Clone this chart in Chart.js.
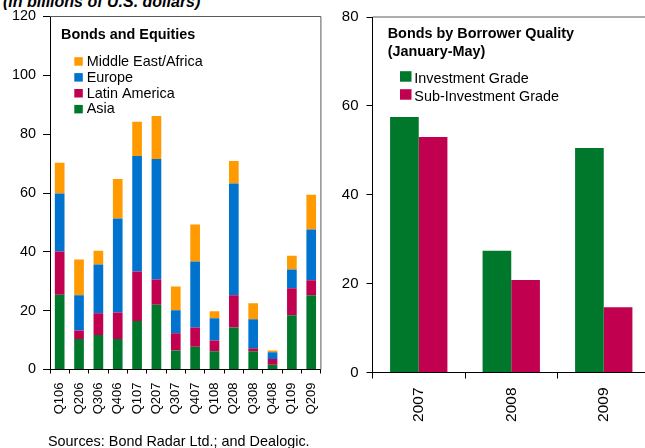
<!DOCTYPE html>
<html>
<head>
<meta charset="utf-8">
<script src="https://cdn.jsdelivr.net/npm/chart.js@4"></script>
<style>
html,body{margin:0;padding:0;background:#fff;overflow:hidden;width:645px;height:448px;position:relative;font-family:"Liberation Sans",Arial,sans-serif;}
#c1{position:absolute;left:0;top:0;}
#c2{position:absolute;left:330px;top:0;}
#title{position:absolute;left:3px;top:-6px;font:bold italic 16px "Liberation Sans",Arial,sans-serif;line-height:16px;white-space:nowrap;color:#000;}
#src{position:absolute;left:48px;top:434px;font:14.4px "Liberation Sans",Arial,sans-serif;line-height:14.4px;white-space:nowrap;color:#000;}
</style>
</head>
<body>
<div id="title">(in billions of U.S. dollars)</div>
<canvas id="c1" width="336" height="448"></canvas>
<canvas id="c2" width="330" height="448"></canvas>
<div id="src">Sources: Bond Radar Ltd.; and Dealogic.</div>
<script>
// ---- Left panel data (billions of U.S. dollars) ----
const quarters = ['Q106','Q206','Q306','Q406','Q107','Q207','Q307','Q407','Q108','Q208','Q308','Q408','Q109','Q209'];
const asia             = [25.4,10.4,11.7,10.4,16.5,22.0, 6.5, 7.7, 6.2,14.3, 6.2, 1.6,18.4,25.2];
const latinAmerica     = [14.7, 2.9, 7.4, 9.0,16.8, 8.6, 5.8, 6.6, 3.7,10.9, 1.0, 2.0, 9.2, 5.1];
const europe           = [19.7,11.9,16.6,31.9,39.3,41.0, 7.8,22.4, 7.5,38.0, 9.9, 2.3, 6.4,17.3];
const middleEastAfrica = [10.5,12.2, 4.7,13.5,11.6,14.6, 8.1,12.6, 2.4, 7.7, 5.4, 0.6, 4.7,11.8];
const leftTicks = [0,20,40,60,80,100,120];

// ---- Right panel data ----
const years = ['2007','2008','2009'];
const investmentGrade    = [57.5,27.4,50.5];
const subInvestmentGrade = [53.0,20.8,14.7];
const rightTicks = [0,20,40,60,80];

const FAM = '"Liberation Sans", Arial, sans-serif';
const C_ORANGE = '#FF9A00', C_BLUE = '#0073CF', C_RED = '#C1004F', C_GREEN = '#00782B';

const framePlugin = {
  id: 'frame',
  afterDraw(chart, args, opts) {
    const { ctx, chartArea: a } = chart;
    ctx.save();
    ctx.strokeStyle = opts.color || '#666';
    ctx.lineWidth = 1;
    ctx.beginPath();
    ctx.moveTo(a.left, a.top);
    ctx.lineTo(a.right, a.top);
    ctx.lineTo(a.right, a.bottom);
    ctx.stroke();
    ctx.restore();
  }
};

const boxLegendPlugin = {
  id: 'boxLegend',
  afterDraw(chart, args, o) {
    const ctx = chart.ctx;
    ctx.save();
    ctx.fillStyle = '#000';
    ctx.textAlign = 'left';
    ctx.textBaseline = 'alphabetic';
    ctx.font = 'bold ' + o.fontSize + 'px ' + FAM;
    o.title.forEach((t, i) => ctx.fillText(t, o.titleX, o.titleY + i * o.titleStep));
    ctx.font = o.fontSize + 'px ' + FAM;
    let ds = chart.data.datasets.slice();
    if (o.reverse) ds.reverse();
    ds.forEach((d, i) => {
      const by = o.y + i * o.step;
      ctx.fillStyle = d.backgroundColor;
      ctx.fillRect(o.boxX, by - o.boxH - o.boxLift, o.boxW, o.boxH);
      ctx.fillStyle = '#000';
      ctx.fillText(d.label, o.textX, by);
    });
    ctx.restore();
  }
};

new Chart(document.getElementById('c1'), {
  type: 'bar',
  data: {
    labels: quarters,
    datasets: [
      { label: 'Asia', data: asia, backgroundColor: C_GREEN },
      { label: 'Latin America', data: latinAmerica, backgroundColor: C_RED },
      { label: 'Europe', data: europe, backgroundColor: C_BLUE },
      { label: 'Middle East/Africa', data: middleEastAfrica, backgroundColor: C_ORANGE }
    ]
  },
  options: {
    responsive: false,
    animation: false,
    layout: { padding: { top: 16.5, right: 4.5, bottom: 0, left: 0 } },
    datasets: { bar: { barPercentage: 0.5, categoryPercentage: 1.0, borderWidth: 0 } },
    plugins: {
      legend: { display: false },
      tooltip: { enabled: false },
      frame: { color: '#5a5a5a' },
      boxLegend: {
        title: ['Bonds and Equities'], titleX: 61, titleY: 38.5, titleStep: 18,
        fontSize: 14.4, reverse: true,
        y: 65.7, step: 15.9, boxX: 74.3, boxW: 8.5, boxH: 8.5, boxLift: 0, textX: 86.7
      }
    },
    scales: {
      x: {
        stacked: true,
        grid: { drawOnChartArea: false, drawTicks: true, tickLength: 4, tickColor: '#000', offset: true },
        border: { display: true, color: '#000', width: 1 },
        ticks: { minRotation: 90, maxRotation: 90, autoSkip: false, padding: 9, color: '#000', font: { size: 13, family: FAM } },
        afterFit: s => { s.height = 78.5; }
      },
      y: {
        stacked: true, min: 0, max: 120,
        afterBuildTicks: s => { s.ticks = leftTicks.map(v => ({ value: v })); },
        grid: { drawOnChartArea: false, drawTicks: true, tickLength: 7, tickColor: '#000' },
        border: { display: true, color: '#000', width: 1 },
        ticks: { padding: 7, color: '#000', font: { size: 14.4, family: FAM } },
        afterFit: s => { s.width = 50; }
      }
    }
  },
  plugins: [framePlugin, boxLegendPlugin]
});

new Chart(document.getElementById('c2'), {
  type: 'bar',
  data: {
    labels: years,
    datasets: [
      { label: 'Investment Grade', data: investmentGrade, backgroundColor: C_GREEN },
      { label: 'Sub-Investment Grade', data: subInvestmentGrade, backgroundColor: C_RED }
    ]
  },
  options: {
    responsive: false,
    animation: false,
    layout: { padding: { top: 16.5, right: 10, bottom: 0, left: 0 } },
    datasets: { bar: { barPercentage: 1.0, categoryPercentage: 0.62, borderWidth: 0 } },
    plugins: {
      legend: { display: false },
      tooltip: { enabled: false },
      frame: { color: '#5a5a5a' },
      boxLegend: {
        title: ['Bonds by Borrower Quality', '(January-May)'], titleX: 57.7, titleY: 37.7, titleStep: 18,
        fontSize: 14.4, reverse: false,
        y: 82.7, step: 18, boxX: 70, boxW: 11.5, boxH: 10.5, boxLift: 1, textX: 84.3
      }
    },
    scales: {
      x: {
        grid: { drawOnChartArea: false, drawTicks: true, tickLength: 6, tickColor: '#000', offset: true },
        border: { display: true, color: '#000', width: 1 },
        ticks: { minRotation: 90, maxRotation: 90, autoSkip: false, padding: 9, color: '#000', font: { size: 15.5, family: FAM } },
        afterFit: s => { s.height = 75.5; }
      },
      y: {
        min: 0, max: 80,
        afterBuildTicks: s => { s.ticks = rightTicks.map(v => ({ value: v })); },
        grid: { drawOnChartArea: false, drawTicks: true, tickLength: 6, tickColor: '#000' },
        border: { display: true, color: '#000', width: 1 },
        ticks: { padding: 8, color: '#000', font: { size: 15, family: FAM } },
        afterFit: s => { s.width = 42.5; }
      }
    }
  },
  plugins: [framePlugin, boxLegendPlugin]
});
</script>
</body>
</html>
